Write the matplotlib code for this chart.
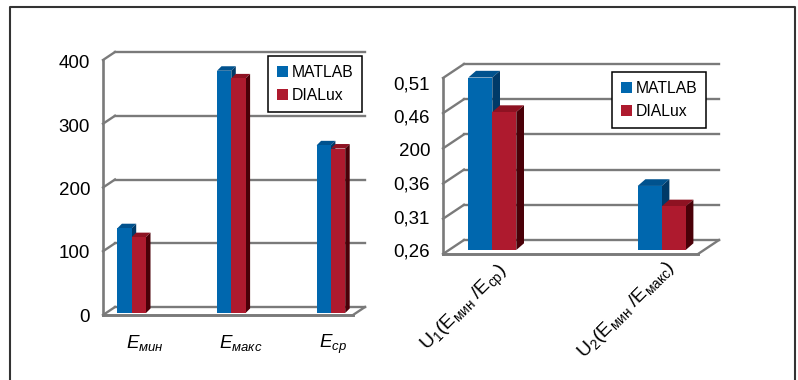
import matplotlib
matplotlib.use('Agg')
import matplotlib.pyplot as plt
from matplotlib.lines import Line2D
from matplotlib.patches import Polygon
from matplotlib.transforms import Affine2D, blended_transform_factory

plt.rcParams['font.family'] = ['Liberation Sans', 'DejaVu Sans']
plt.rcParams['mathtext.fontset'] = 'custom'
plt.rcParams['mathtext.rm'] = 'Liberation Sans'
plt.rcParams['mathtext.it'] = 'Liberation Sans:italic'

series_names = ['MATLAB', 'DIALux']

# illuminance values
left_matlab = [133, 380, 263]
left_dialux = [119, 368, 258]
left_categories = [r'$\mathit{E}_{\mathit{мин}}$', r'$\mathit{E}_{\mathit{макс}}$', r'$\mathit{E}_{\mathit{ср}}$']
left_ticks = [0, 100, 200, 300, 400]
left_ticklabels = ['0', '100', '200', '300', '400']

# uniformity values
right_matlab = [0.505, 0.351]
right_dialux = [0.456, 0.322]
right_categories = [r'$\mathrm{U}_{1}(\mathrm{E}_{\mathrm{мин}}\ /\mathrm{E}_{\mathrm{ср}})$',
                    r'$\mathrm{U}_{2}(\mathrm{E}_{\mathrm{мин}}\ /\mathrm{E}_{\mathrm{макс}})$']
right_ticks = [0.26, 0.31, 0.36, 0.41, 0.46, 0.51]
right_ticklabels = ['0,26', '0,31', '0,36', '200', '0,46', '0,51']

W, H = 798, 380
BLUE, BLUE_TOP, BLUE_SIDE = '#0067AE', '#00528E', '#003A68'
RED, RED_TOP, RED_SIDE = '#AE1A2E', '#8E1222', '#4A0008'
GRID = '#7A7A7A'

fig = plt.figure(figsize=(W / 100, H / 100), dpi=100)


def px_axes(left, right, top, bottom):
    return fig.add_axes([left / W, 1 - bottom / H, (right - left) / W, (bottom - top) / H])


def px_line(p0, p1, lw):
    # line between two display points, drawn on the figure
    fig.add_artist(Line2D([p0[0] / W, p1[0] / W], [p0[1] / H, p1[1] / H], color=GRID, lw=lw, zorder=1))


def draw_chart(left, right, top, bottom, ylim, ticks, centers, bar_w, depth, front_drop, back, matlab, dialux):
    # the axes is the plane the bars stand on; walls are shifted from it in pixels
    ax = px_axes(left, right, top, bottom)
    ax.axis('off')
    ax.set_ylim(*ylim)
    spacing = centers[1] - centers[0]
    ax.set_xlim((left - centers[0]) / spacing, (right - centers[0]) / spacing)
    px_y = (bottom - top) / (ylim[1] - ylim[0])
    w = bar_w / spacing
    blend = blended_transform_factory(ax.transAxes, ax.transData)
    front = blend + Affine2D().translate(0, -front_drop)
    rear = blend + Affine2D().translate(back[0], back[1])
    for y in ticks:
        ax.add_line(Line2D([0, 1], [y, y], transform=rear, color=GRID, lw=1.7, clip_on=False, zorder=1))
        px_line(front.transform((0, y)), rear.transform((0, y)), 1.7)
    # front axis, floor edge and right floor diagonal
    ax.add_line(Line2D([0, 0], ylim, transform=front, color=GRID, lw=1.9, clip_on=False, zorder=1))
    ax.add_line(Line2D([0, 1], [ylim[0], ylim[0]], transform=front, color=GRID, lw=2.1, clip_on=False, zorder=1))
    px_line(front.transform((1, ylim[0])), rear.transform((1, ylim[0])), 1.7)

    xs = range(len(matlab))
    dx = depth[0] / spacing
    dy = depth[1] / px_y
    base = ylim[0]
    handles = []
    for offset, values, face, cap, side, name in [(-w, matlab, BLUE, BLUE_TOP, BLUE_SIDE, series_names[0]),
                                                  (0, dialux, RED, RED_TOP, RED_SIDE, series_names[1])]:
        bars = ax.bar([x + offset for x in xs], [v - base for v in values], width=w, bottom=base,
                      align='edge', color=face, label=name, zorder=3, clip_on=False)
        handles.append(bars)
        for x, v in zip(xs, values):
            l = x + offset
            ax.add_patch(Polygon([(l, v), (l + w, v), (l + w + dx, v + dy), (l + dx, v + dy)],
                                 color=cap, lw=0, zorder=2.5, clip_on=False))
            ax.add_patch(Polygon([(l + w, base), (l + w + dx, base + dy), (l + w + dx, v + dy), (l + w, v)],
                                 color=side, lw=0, zorder=2.5, clip_on=False))
    return ax, handles


def tick_labels(x, top, bottom, ylim, ticks, labels):
    lab = px_axes(x - 1, x, top, bottom)
    lab.patch.set_visible(False)
    for s in lab.spines.values():
        s.set_visible(False)
    lab.set_xticks([])
    lab.set_ylim(*ylim)
    lab.set_yticks(ticks)
    lab.set_yticklabels(labels, fontsize=13.5)
    lab.tick_params(axis='y', length=0, pad=0, colors='black')


def legend_box(ax, handles, cx, cy):
    leg = ax.legend(handles, series_names, loc='center', bbox_to_anchor=(cx / W, 1 - cy / H),
                    bbox_transform=fig.transFigure, fontsize=11.3, frameon=True, fancybox=False,
                    framealpha=1, edgecolor='black', handlelength=0.7, handleheight=0.7,
                    handletextpad=0.25, labelspacing=0.55, borderpad=0.56, borderaxespad=0)
    leg.get_frame().set_linewidth(1.1)
    leg.set_zorder(10)


# left chart
ax1, h1 = draw_chart(103, 353, 58, 313, (0, 400), left_ticks, [131.7, 231.3, 331], 14.3, (4.5, 4.5), 2, (12, 6),
                     left_matlab, left_dialux)
tick_labels(91, 62, 315, (0, 400), left_ticks, left_ticklabels)
legend_box(ax1, h1, 315, 84)
for cx, txt in zip([145, 241, 333], left_categories):
    fig.text(cx / W, 1 - 348 / H, txt, fontsize=13.5, ha='center', va='baseline', color='black')

# right chart
ax2, h2 = draw_chart(443, 698, 74, 250, (0.26, 0.51), right_ticks, [492.3, 661.7], 24, (7.7, 6.7), 4, (21, 10),
                     right_matlab, right_dialux)
tick_labels(431, 82.7, 250, (0.26, 0.51), right_ticks, right_ticklabels)
legend_box(ax2, h2, 659, 100)
for ex, ey, txt in zip([497, 664], [260, 257], right_categories):
    fig.text(ex / W, 1 - ey / H, txt, fontsize=14, ha='right', va='top', rotation=45,
             rotation_mode='anchor', color='black')

# outer frame, open at the bottom
fig.add_artist(Line2D([9.5 / W, 9.5 / W, 795 / W, 795 / W], [0, 1 - 6.5 / H, 1 - 6.5 / H, 0],
                      color='#333333', lw=1.5))

fig.savefig('out.png', dpi=100)
